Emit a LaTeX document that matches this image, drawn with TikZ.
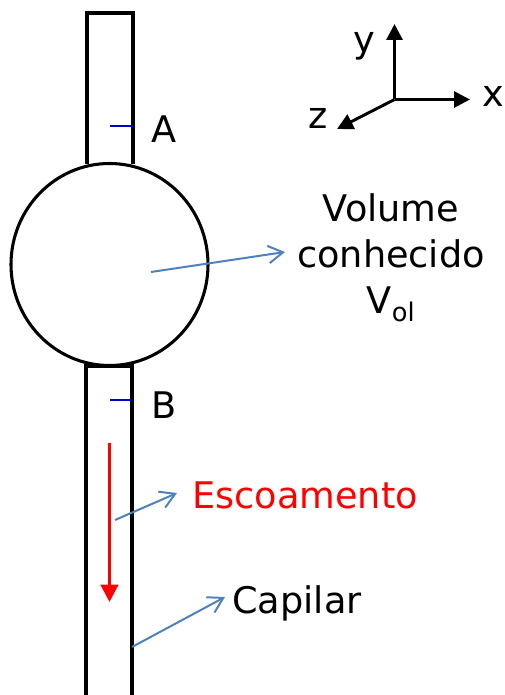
\documentclass[tikz,border=0pt]{standalone}
\usepackage{fontspec}
\setmainfont{DejaVu Sans}
\usetikzlibrary{arrows.meta,shapes.geometric}
\definecolor{bluearrow}{RGB}{79,129,189}
\tikzset{
 tube/.style={draw=black,line width=2.3pt,fill=white},
 lbl/.style={inner sep=0pt,font=\fontsize{27.5}{34.5}\selectfont,text=black},
 callout/.style={draw=bluearrow,line width=1.5pt,-{Straight Barb[length=11pt,width=13pt]}},
 axisline/.style={draw=black,line width=2.2pt,-{Triangle[length=12pt,width=12pt]}},
 tick/.style={draw=blue!80!black,line width=2pt}
}
\begin{document}
\begin{tikzpicture}[x=0.75pt,y=-0.75pt]
\useasboundingbox (0,0) rectangle (504,695);
\draw[tube] (87,164) -- (87,13) -- (133,13) -- (133,164);
\draw[tube] (86,697) -- (86,366) -- (132,366) -- (132,697);
\node[ellipse,draw=black,line width=2.3pt,minimum width=147.75pt,minimum height=151.5pt,inner sep=0pt] (bulb) at (109.5,264.5) {};
\coordinate (c0) at (394.5,99.5);
\coordinate (cy) at (394.5,24);
\coordinate (cx) at (470,99.5);
\coordinate (cz) at (337,129);
\draw[axisline] (c0) -- (cy);
\draw[axisline] (c0) -- (cx);
\draw[axisline] (c0) -- (cz);
\node[lbl] (ly) at (364,46) {y};
\node[lbl] (lx) at (493,96) {x};
\node[lbl] (lz) at (318,118) {z};
\coordinate (a1) at (110,126); \coordinate (a2) at (133,126);
\draw[tick] (a1) -- (a2);
\coordinate (b1) at (110,400); \coordinate (b2) at (132,400);
\draw[tick] (b1) -- (b2);
\node[lbl] (la) at (164,129) {A};
\node[lbl] (lb) at (164,405) {B};
\node[lbl,align=center] (vol) at (391,258) {Volume\\conhecido\\V\textsubscript{ol}};
\node[lbl,text=red] (esc) at (305,495) {Escoamento};
\node[lbl] (cap) at (297,603) {Capilar};
\coordinate (s1) at (151,272); \coordinate (e1) at (285,252);
\draw[callout] (s1) -- (e1);
\coordinate (s2) at (115,520); \coordinate (e2) at (177,493);
\draw[callout] (s2) -- (e2);
\coordinate (s3) at (132,647); \coordinate (e3) at (225,597);
\draw[callout] (s3) -- (e3);
\coordinate (f1) at (109.5,443); \coordinate (f2) at (109.5,602);
\draw[draw=red,line width=2.3pt,-{Triangle[length=13pt,width=13pt]}] (f1) -- (f2);
\end{tikzpicture}
\end{document}
